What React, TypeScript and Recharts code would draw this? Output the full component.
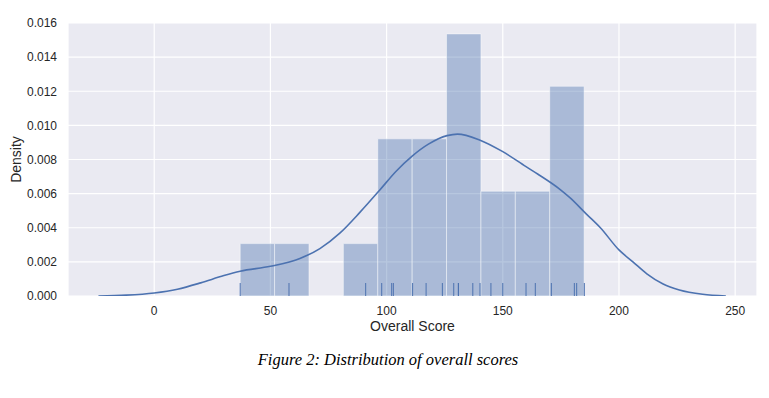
import { CartesianGrid, ComposedChart, Line, ReferenceArea, Scatter, XAxis, YAxis } from "recharts";

const blue = "#4c72b0";
const ink = "#262626";

// histogram bins (edges + density heights)
const binEdges = [37, 51.8, 66.6, 81.4, 96.2, 111, 125.8, 140.6, 155.4, 170.2, 185];
const binHeights = [0.00307, 0.00307, 0, 0.00307, 0.00921, 0.00921, 0.01536, 0.00614, 0.00614, 0.01229];

// rug marks, one per score
const rugScores = [
  37, 58, 91, 97.9, 102.2, 102.9, 111.2, 117, 124, 128.9, 130.9, 130.9, 137.1, 140.2,
  144.9, 150, 160, 164, 170.9, 180.8, 181.8, 185.1
];

// kde curve
const kdeX = [-24, -12, 0, 10, 20, 30, 37, 50, 62.7, 71.3, 80, 88.5, 97, 104, 111, 118, 126, 130.5, 140, 150, 160, 165, 175, 179, 186, 192, 200, 206, 212, 219, 226, 236, 246];
const kdeY = [0, 0.00005, 0.00018, 0.0004, 0.00077, 0.0012, 0.00145, 0.00174, 0.0022, 0.00278, 0.0037, 0.0049, 0.0062, 0.0073, 0.0082, 0.0089, 0.0094, 0.00949, 0.00915, 0.00846, 0.00758, 0.00715, 0.00621, 0.00575, 0.0048, 0.004, 0.0027, 0.002, 0.0013, 0.0007, 0.00035, 0.0001, 0];

const xTicks = [0, 50, 100, 150, 200, 250];
const yTicks = [0, 0.002, 0.004, 0.006, 0.008, 0.01, 0.012, 0.014, 0.016];

const kde = kdeX.map((x, i) => ({ x, y: kdeY[i] }));
const rug = rugScores.map((x) => ({ x, y: 0 }));

function RugMark(props: { cx?: number; cy?: number }) {
  const { cx = 0, cy = 0 } = props;
  return <line x1={cx} x2={cx} y1={cy} y2={cy - 13} stroke={blue} strokeWidth={1} />;
}

export default function App() {
  const font = "'Liberation Sans', Arial, sans-serif";
  return (
    <div style={{ position: "absolute", left: 0, top: 0, width: 769, height: 398, background: "#fff" }}>
      <ComposedChart width={769} height={340} margin={{ top: 23, right: 12, left: 0, bottom: 0 }}>
        <CartesianGrid fill="#eaeaf2" stroke="#ffffff" strokeWidth={1.2} />
        <XAxis
          type="number"
          dataKey="x"
          domain={[-37.1, 259.4]}
          ticks={xTicks}
          allowDataOverflow
          axisLine={false}
          tickLine={false}
          tickMargin={4}
          height={44}
          tick={{ fontSize: 12, fill: ink, fontFamily: font }}
          label={{ value: "Overall Score", position: "insideBottom", offset: 9, style: { fontSize: 14, fill: ink, fontFamily: font } }}
        />
        <YAxis
          type="number"
          domain={[0, 0.016]}
          ticks={yTicks}
          allowDataOverflow
          axisLine={false}
          tickLine={false}
          tickMargin={5}
          width={68}
          tickFormatter={(v) => Number(v).toFixed(3)}
          tick={{ fontSize: 12, fill: ink, fontFamily: font }}
          label={{ value: "Density", angle: -90, position: "insideLeft", offset: 16, style: { fontSize: 14, fill: ink, fontFamily: font, textAnchor: "middle" } }}
        />
        {binHeights.map((h, i) =>
          h > 0 ? (
            <ReferenceArea
              key={i}
              x1={binEdges[i]}
              x2={binEdges[i + 1]}
              y1={0}
              y2={h}
              fill={blue}
              fillOpacity={0.4}
              stroke="#ffffff"
              strokeOpacity={0.45}
              strokeWidth={1}
            />
          ) : null
        )}
        <Line data={kde} dataKey="y" type="monotone" stroke={blue} strokeWidth={1.6} dot={false} isAnimationActive={false} />
        <Scatter data={rug} dataKey="y" shape={<RugMark />} isAnimationActive={false} />
      </ComposedChart>
      <div
        style={{
          position: "absolute",
          left: 0,
          top: 350,
          width: 776,
          textAlign: "center",
          fontFamily: "'Liberation Serif', 'Times New Roman', serif",
          fontStyle: "italic",
          fontSize: 16.5,
          color: "#000"
        }}
      >
        Figure 2: Distribution of overall scores
      </div>
    </div>
  );
}
